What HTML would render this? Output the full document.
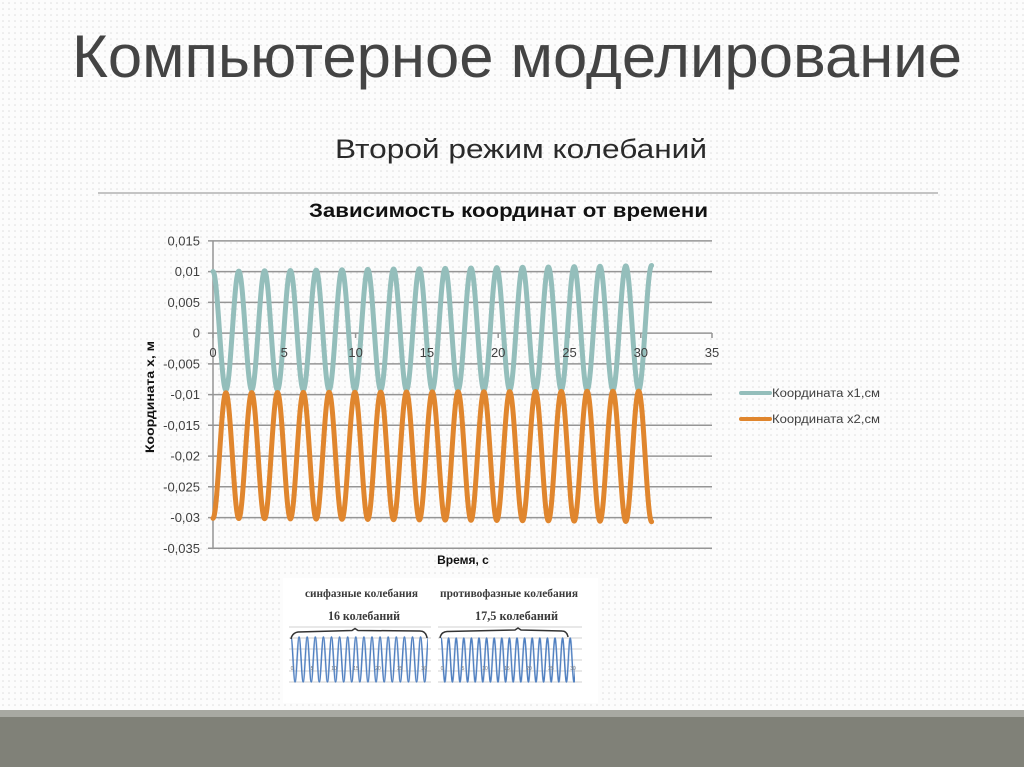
<!DOCTYPE html>
<html>
<head>
<meta charset="utf-8">
<style>
html,body{margin:0;padding:0;background:#fbfbfb;}
svg{display:block;}
text{font-family:"Liberation Sans","DejaVu Sans",sans-serif;}
text.serif{font-family:"Liberation Serif","DejaVu Serif",serif;}
</style>
</head>
<body>
<svg width="1024" height="767" viewBox="0 0 1024 767" xmlns="http://www.w3.org/2000/svg">
<defs>
  <pattern id="dots" width="6" height="6" patternUnits="userSpaceOnUse">
    <rect width="6" height="6" fill="#fcfcfc"/>
    <circle cx="3" cy="3" r="0.8" fill="#dedede"/>
  </pattern>
  <pattern id="waveL" x="291" y="632" width="8.1" height="56" patternUnits="userSpaceOnUse">
    <path d="M0 5 C1.47 5 2.58 50 4.05 50 S6.63 5 8.1 5" fill="none" stroke="#4f7fc0" stroke-width="1.5"/>
  </pattern>
  <pattern id="waveR" x="441" y="632" width="7.6" height="56" patternUnits="userSpaceOnUse">
    <path d="M0 6 C1.38 6 2.42 50 3.8 50 S6.22 6 7.6 6" fill="none" stroke="#4f7fc0" stroke-width="1.5"/>
  </pattern>
</defs>

<!-- background -->
<rect x="0" y="0" width="1024" height="710" fill="url(#dots)"/>

<!-- footer bands -->
<rect x="0" y="710" width="1024" height="7" fill="#a8a9a2"/>
<rect x="0" y="717" width="1024" height="50" fill="#808178"/>

<!-- titles -->
<text x="72" y="77" font-size="60" fill="#444444" textLength="890" lengthAdjust="spacingAndGlyphs">Компьютерное моделирование</text>
<text x="335" y="158" font-size="27" fill="#2a2a2a" textLength="372" lengthAdjust="spacingAndGlyphs">Второй режим колебаний</text>
<line x1="98" y1="193" x2="938" y2="193" stroke="#b2b2b2" stroke-width="1.5"/>

<!-- chart title -->
<text x="309" y="217" font-size="19" font-weight="bold" fill="#111" textLength="399" lengthAdjust="spacingAndGlyphs">Зависимость координат от времени</text>

<!-- gridlines -->
<g stroke="#959595" stroke-width="1.5">
  <line x1="208" y1="240.9" x2="712" y2="240.9"/>
  <line x1="208" y1="271.6" x2="712" y2="271.6"/>
  <line x1="208" y1="302.4" x2="712" y2="302.4"/>
  <line x1="208" y1="333.1" x2="712" y2="333.1"/>
  <line x1="208" y1="363.9" x2="712" y2="363.9"/>
  <line x1="208" y1="394.6" x2="712" y2="394.6"/>
  <line x1="208" y1="425.3" x2="712" y2="425.3"/>
  <line x1="208" y1="456.1" x2="712" y2="456.1"/>
  <line x1="208" y1="486.8" x2="712" y2="486.8"/>
  <line x1="208" y1="517.6" x2="712" y2="517.6"/>
  <line x1="208" y1="548.3" x2="712" y2="548.3"/>
  <line x1="213" y1="240.9" x2="213" y2="548.3"/>
  <!-- x ticks -->
  <line x1="213" y1="333" x2="213" y2="338"/>
  <line x1="284.3" y1="333" x2="284.3" y2="338"/>
  <line x1="355.6" y1="333" x2="355.6" y2="338"/>
  <line x1="426.9" y1="333" x2="426.9" y2="338"/>
  <line x1="498.2" y1="333" x2="498.2" y2="338"/>
  <line x1="569.5" y1="333" x2="569.5" y2="338"/>
  <line x1="640.8" y1="333" x2="640.8" y2="338"/>
  <line x1="712" y1="333" x2="712" y2="338"/>
</g>

<!-- y tick labels -->
<g font-size="13" fill="#404040" text-anchor="end">
  <text x="200" y="245.5">0,015</text>
  <text x="200" y="276.2">0,01</text>
  <text x="200" y="307">0,005</text>
  <text x="200" y="337.7">0</text>
  <text x="200" y="368.5">-0,005</text>
  <text x="200" y="399.2">-0,01</text>
  <text x="200" y="429.9">-0,015</text>
  <text x="200" y="460.7">-0,02</text>
  <text x="200" y="491.4">-0,025</text>
  <text x="200" y="522.2">-0,03</text>
  <text x="200" y="552.9">-0,035</text>
</g>

<!-- axis titles -->
<text x="154" y="397" font-size="11.5" font-weight="bold" fill="#111" text-anchor="middle" transform="rotate(-90 154 397)" textLength="112" lengthAdjust="spacingAndGlyphs">Координата  х, м</text>
<text x="463" y="564" font-size="12" font-weight="bold" fill="#111" text-anchor="middle">Время, с</text>

<!-- series x1 -->
<path fill="none" stroke="#94bebb" stroke-width="5" stroke-linecap="round" stroke-linejoin="round" d="M213 271.5 C217.69 271.5 221.21 390 225.9 390
S234.11 271.15 238.8 271.15 S247.01 390 251.7 390
S259.91 270.8 264.6 270.8 S272.81 390 277.5 390
S285.71 270.45 290.4 270.45 S298.61 390 303.3 390
S311.51 270.1 316.2 270.1 S324.41 390 329.1 390
S337.31 269.75 342 269.75 S350.21 390 354.9 390
S363.11 269.4 367.8 269.4 S376.01 390 380.7 390
S388.91 269.05 393.6 269.05 S401.81 390 406.5 390
S414.71 268.7 419.4 268.7 S427.61 390 432.3 390
S440.51 268.35 445.2 268.35 S453.41 390 458.1 390
S466.31 268 471 268 S479.21 390 483.9 390
S492.11 267.65 496.8 267.65 S505.01 390 509.7 390
S517.91 267.3 522.6 267.3 S530.81 390 535.5 390
S543.71 266.95 548.4 266.95 S556.61 390 561.3 390
S569.51 266.6 574.2 266.6 S582.41 390 587.1 390
S595.31 266.25 600 266.25 S608.21 390 612.9 390
S621.11 265.9 625.8 265.9 S634.01 390 638.7 390
S646.91 265.55 651.6 265.55"/>

<!-- series x2 -->
<path fill="none" stroke="#e0862e" stroke-width="5" stroke-linecap="round" stroke-linejoin="round" d="M213 518.3 C217.69 518.3 221.21 392.7 225.9 392.7
S234.11 518.5 238.8 518.5 S247.01 392.6 251.7 392.6
S259.91 518.7 264.6 518.7 S272.81 392.5 277.5 392.5
S285.71 518.9 290.4 518.9 S298.61 392.4 303.3 392.4
S311.51 519.1 316.2 519.1 S324.41 392.3 329.1 392.3
S337.31 519.3 342 519.3 S350.21 392.2 354.9 392.2
S363.11 519.5 367.8 519.5 S376.01 392.1 380.7 392.1
S388.91 519.7 393.6 519.7 S401.81 392 406.5 392
S414.71 519.9 419.4 519.9 S427.61 391.9 432.3 391.9
S440.51 520.1 445.2 520.1 S453.41 391.8 458.1 391.8
S466.31 520.3 471 520.3 S479.21 391.7 483.9 391.7
S492.11 520.5 496.8 520.5 S505.01 391.6 509.7 391.6
S517.91 520.7 522.6 520.7 S530.81 391.5 535.5 391.5
S543.71 520.9 548.4 520.9 S556.61 391.4 561.3 391.4
S569.51 521.1 574.2 521.1 S582.41 391.3 587.1 391.3
S595.31 521.3 600 521.3 S608.21 391.2 612.9 391.2
S621.11 521.5 625.8 521.5 S634.01 391.1 638.7 391.1
S646.91 521.7 651.6 521.7"/>

<!-- x tick labels (drawn above series) -->
<g font-size="13" fill="#404040" text-anchor="middle">
  <text x="213" y="357">0</text>
  <text x="284.3" y="357">5</text>
  <text x="355.6" y="357">10</text>
  <text x="426.9" y="357">15</text>
  <text x="498.2" y="357">20</text>
  <text x="569.5" y="357">25</text>
  <text x="640.8" y="357">30</text>
  <text x="712" y="357">35</text>
</g>

<!-- legend -->
<line x1="741" y1="393" x2="770" y2="393" stroke="#94bebb" stroke-width="4" stroke-linecap="round"/>
<text x="772" y="397" font-size="11.5" fill="#404040" textLength="108" lengthAdjust="spacingAndGlyphs">Координата х1,см</text>
<line x1="741" y1="419" x2="770" y2="419" stroke="#e0862e" stroke-width="4" stroke-linecap="round"/>
<text x="772" y="423" font-size="11.5" fill="#404040" textLength="108" lengthAdjust="spacingAndGlyphs">Координата х2,см</text>

<!-- inset image -->
<rect x="283" y="578" width="315" height="125" fill="#ffffff"/>
<g font-weight="bold" fill="#3a3a3a">
  <text class="serif" x="305" y="597" font-size="12" textLength="113" lengthAdjust="spacingAndGlyphs">синфазные колебания</text>
  <text class="serif" x="328" y="620" font-size="13" textLength="72" lengthAdjust="spacingAndGlyphs">16 колебаний</text>
  <text class="serif" x="440" y="597" font-size="12" textLength="138" lengthAdjust="spacingAndGlyphs">противофазные колебания</text>
  <text class="serif" x="475" y="620" font-size="13" textLength="83" lengthAdjust="spacingAndGlyphs">17,5 колебаний</text>
</g>
<!-- small charts gridlines -->
<g stroke="#d2d2d2" stroke-width="1">
  <line x1="289" y1="627" x2="431" y2="627"/>
  <line x1="289" y1="638" x2="431" y2="638"/>
  <line x1="289" y1="649" x2="431" y2="649"/>
  <line x1="289" y1="660" x2="431" y2="660"/>
  <line x1="289" y1="671" x2="431" y2="671"/>
  <line x1="289" y1="682" x2="431" y2="682"/>
  <line x1="438" y1="627" x2="582" y2="627"/>
  <line x1="438" y1="638" x2="582" y2="638"/>
  <line x1="438" y1="649" x2="582" y2="649"/>
  <line x1="438" y1="660" x2="582" y2="660"/>
  <line x1="438" y1="671" x2="582" y2="671"/>
  <line x1="438" y1="682" x2="582" y2="682"/>
</g>
<rect x="291" y="632" width="137" height="56" fill="url(#waveL)"/>
<rect x="441" y="632" width="134" height="56" fill="url(#waveR)"/>
<g font-size="5" fill="#777" text-anchor="middle">
  <text x="292" y="670">0</text><text x="312" y="670">5</text><text x="334" y="670">10</text><text x="356" y="670">15</text><text x="378" y="670">20</text><text x="400" y="670">25</text><text x="424" y="670">30</text>
  <text x="442" y="670">0</text><text x="463" y="670">5</text><text x="485" y="670">10</text><text x="507" y="670">15</text><text x="529" y="670">20</text><text x="551" y="670">25</text><text x="573" y="670">30</text>
</g>
<!-- braces -->
<path d="M291 639 Q292 633 298 632 L352 630.5 L355 628.5 L358 630.5 L420 631 Q426 631 427 638" fill="none" stroke="#333" stroke-width="1.5"/>
<path d="M440 638 Q441 632 447 631.5 L515 630 L518 628 L521 630 L562 631 Q567 631 568 637" fill="none" stroke="#333" stroke-width="1.5"/>
</svg>
</body>
</html>
